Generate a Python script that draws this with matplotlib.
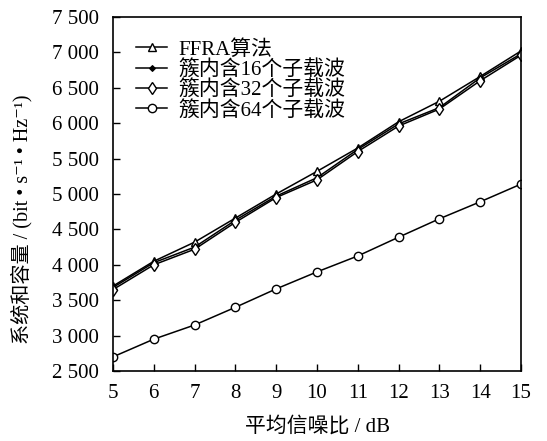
import matplotlib
matplotlib.use("Agg")
import matplotlib.pyplot as plt

plt.rcParams['font.family'] = ['Liberation Serif', 'Noto Sans CJK SC', 'DejaVu Serif']

snr = [5, 6, 7, 8, 9, 10, 11, 12, 13, 14, 15]
ffra = [3700, 4050, 4320, 4660, 5000, 5320, 5650, 6020, 6310, 6660, 7020]
sub16 = [3680, 4030, 4250, 4630, 4970, 5230, 5630, 5990, 6220, 6640, 6980]
sub32 = [3650, 4000, 4220, 4600, 4950, 5200, 5600, 5960, 6200, 6600, 6960]
sub64 = [2700, 2950, 3150, 3400, 3660, 3900, 4125, 4390, 4650, 4890, 5140]

labels = ['FFRA算法', '簇内含16个子载波', '簇内含32个子载波', '簇内含64个子载波']
yticks = [2500, 3000, 3500, 4000, 4500, 5000, 5500, 6000, 6500, 7000, 7500]
yticklabels = ['2 500', '3 000', '3 500', '4 000', '4 500', '5 000',
               '5 500', '6 000', '6 500', '7 000', '7 500']

fig = plt.figure(figsize=(5.47, 4.41), dpi=100)
ax = fig.add_axes([0.2066, 0.1587, 0.7459, 0.8028])

lw = 1.1
ax.plot(snr, ffra, color='black', lw=lw, marker='^', ms=5.5, mfc='white', mec='black', mew=1.0, label=labels[0])
ax.plot(snr, sub16, color='black', lw=lw, marker='D', ms=3, mfc='black', mec='black', mew=0.8, label=labels[1])
ax.plot(snr, sub32, color='black', lw=lw, marker='d', ms=6.5, mfc='white', mec='black', mew=1.0, label=labels[2])
ax.plot(snr, sub64, color='black', lw=lw, marker='o', ms=6, mfc='white', mec='black', mew=1.0, label=labels[3])

ax.set_xlim(5, 15)
ax.set_ylim(2500, 7500)
ax.set_xticks(snr)
ax.set_xticklabels([str(v) for v in snr])
ax.set_yticks(yticks)
ax.set_yticklabels(yticklabels)
ax.tick_params(direction='in', length=5, width=1.0, labelsize=15)
ax.tick_params(axis='y', pad=10)
ax.tick_params(axis='x', pad=9)
for s in ax.spines.values():
    s.set_linewidth(1.2)

ax.set_xlabel('平均信噪比 / dB', fontsize=15, labelpad=10)
ax.set_ylabel('系统和容量 / (bit • s\u207b\u00b9 • Hz\u207b\u00b9)', fontsize=14.5)
ax.yaxis.set_label_coords(-0.198, 0.43)

leg = ax.legend(loc='upper left', frameon=False, fontsize=15, labelspacing=0.02,
                handlelength=1.5, handletextpad=0.55, borderaxespad=0.5,
                borderpad=0.6, bbox_to_anchor=(0.0, 1.0))

fig.savefig('out.png', dpi=100)
